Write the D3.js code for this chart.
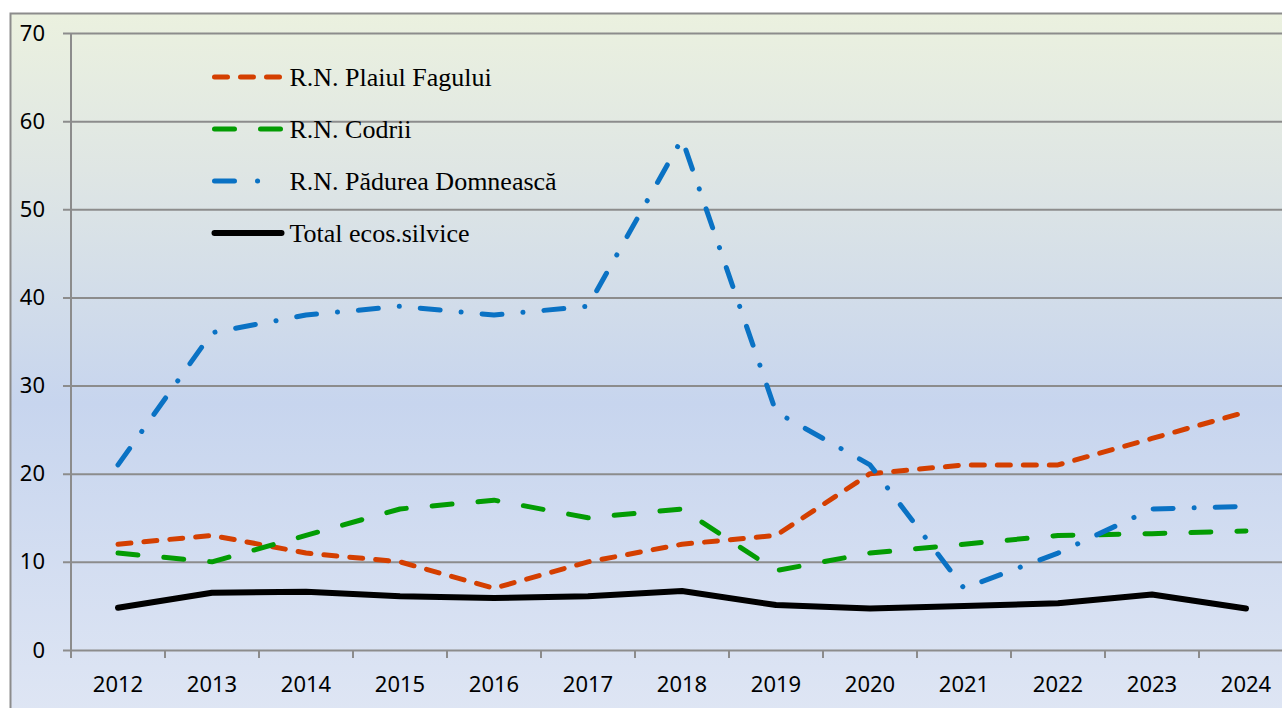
<!DOCTYPE html>
<html>
<head>
<meta charset="utf-8">
<script src="https://cdn.jsdelivr.net/npm/d3@7"></script>
<style>
  body { margin: 0; background: #fff; }
  svg { display: block; }
</style>
</head>
<body>
<svg></svg>
<script>
var years = ["2012","2013","2014","2015","2016","2017","2018","2019","2020","2021","2022","2023","2024"];
var plaiulFagului = [12, 13, 11, 10, 7, 10, 12, 13, 20, 21, 21, 24, 27];
var codrii = [11, 10, 13, 16, 17, 15, 16, 9, 11, 12, 13, 13.2, 13.5];
var padureaDomneasca = [21, 36, 38, 39, 38, 39, 58, 27, 21, 7, 11, 16, 16.3];
var totalSilvice = [4.8, 6.5, 6.6, 6.1, 5.9, 6.1, 6.7, 5.1, 4.7, 5.0, 5.3, 6.3, 4.7];
var yTicks = [0, 10, 20, 30, 40, 50, 60, 70];

var series = [
  {name: "R.N. Plaiul Fagului", values: plaiulFagului, color: "#d43f00", dash: "13,13", legendDash: "13,13", width: 5},
  {name: "R.N. Codrii", values: codrii, color: "#039c03", dash: "20,26", legendDash: "20,26", width: 5},
  {name: "R.N. Pădurea Domnească", values: padureaDomneasca, color: "#0a72c4", dash: "20,21,0.1,21", legendDash: "20,23,0.1,40", width: 5},
  {name: "Total ecos.silvice", values: totalSilvice, color: "#000000", dash: null, legendDash: null, width: 6}
];

var W = 1282, H = 708;
var margin = {top: 33, right: -11, bottom: 58, left: 71};
var width = W - margin.left - margin.right,
    height = H - margin.top - margin.bottom;

var svg = d3.select("svg").attr("width", W).attr("height", H);

// background gradient
var defs = svg.append("defs");
var grad = defs.append("linearGradient").attr("id", "bg")
    .attr("x1", 0).attr("y1", 0).attr("x2", 0).attr("y2", 1);
grad.append("stop").attr("offset", "0%").attr("stop-color", "#ebf1df");
grad.append("stop").attr("offset", "22%").attr("stop-color", "#dfe6e4");
grad.append("stop").attr("offset", "55%").attr("stop-color", "#c7d5ee");
grad.append("stop").attr("offset", "100%").attr("stop-color", "#dfe6f4");

svg.append("rect")
    .attr("x", 10.5).attr("y", 13.5)
    .attr("width", W).attr("height", H)
    .attr("fill", "url(#bg)")
    .attr("stroke", "#8c8c8c")
    .attr("stroke-width", 2);

var g = svg.append("g")
    .attr("transform", "translate(" + margin.left + "," + margin.top + ")");

var x = d3.scaleBand().domain(years).range([0, 94 * years.length]);
var y = d3.scaleLinear().domain([0, 70]).range([height, 0]);

// gridlines + y labels
var yAxis = d3.axisLeft(y).tickValues(yTicks).tickSize(-width).tickSizeOuter(0).tickPadding(26);
var yg = g.append("g").attr("class", "y axis").call(yAxis);
yg.select(".domain").remove();
yg.selectAll(".tick line")
    .attr("x1", -8)
    .attr("stroke", "#8c8c8c").attr("stroke-width", 2);
yg.selectAll(".tick text")
    .style("font-family", "'Noto Sans', sans-serif")
    .style("font-size", "22px").attr("fill", "#000");

// vertical axis line
g.append("line")
    .attr("x1", 0).attr("x2", 0).attr("y1", 0).attr("y2", height + 8)
    .attr("stroke", "#8c8c8c").attr("stroke-width", 2);

// x axis
var xAxis = d3.axisBottom(x).tickSize(0).tickPadding(26);
var xg = g.append("g").attr("class", "x axis")
    .attr("transform", "translate(0," + height + ")")
    .call(xAxis);
xg.select(".domain").remove();
xg.selectAll(".tick text")
    .style("font-family", "'Noto Sans', sans-serif")
    .style("font-size", "22px").attr("fill", "#000");
xg.selectAll(".sep")
    .data(years)
    .enter().append("line")
    .attr("x1", function(d) { return x(d); })
    .attr("x2", function(d) { return x(d); })
    .attr("y1", 0).attr("y2", 8)
    .attr("stroke", "#8c8c8c").attr("stroke-width", 2);

// lines
var line = d3.line()
    .x(function(d, i) { return x(years[i]) + x.bandwidth() / 2; })
    .y(function(d) { return y(d); });

series.forEach(function(s) {
  g.append("path")
      .datum(s.values)
      .attr("d", line)
      .attr("fill", "none")
      .attr("stroke", s.color)
      .attr("stroke-width", s.width)
      .attr("stroke-linecap", "round")
      .attr("stroke-linejoin", "round")
      .attr("stroke-dasharray", s.dash);
});

// legend
var legend = svg.selectAll(".legend")
    .data(series)
    .enter().append("g")
    .attr("class", "legend")
    .attr("transform", function(d, i) { return "translate(214.5," + (77 + i * 52) + ")"; });

legend.append("line")
    .attr("x1", 0).attr("x2", 67)
    .attr("stroke", function(d) { return d.color; })
    .attr("stroke-width", function(d) { return d.width; })
    .attr("stroke-linecap", "round")
    .attr("stroke-dasharray", function(d) { return d.legendDash; });

legend.append("text")
    .attr("x", 75)
    .attr("dy", "0.35em")
    .style("font-family", "'Liberation Serif', 'Times New Roman', serif")
    .style("font-size", "26px")
    .attr("fill", "#000")
    .text(function(d) { return d.name; });
</script>
</body>
</html>
